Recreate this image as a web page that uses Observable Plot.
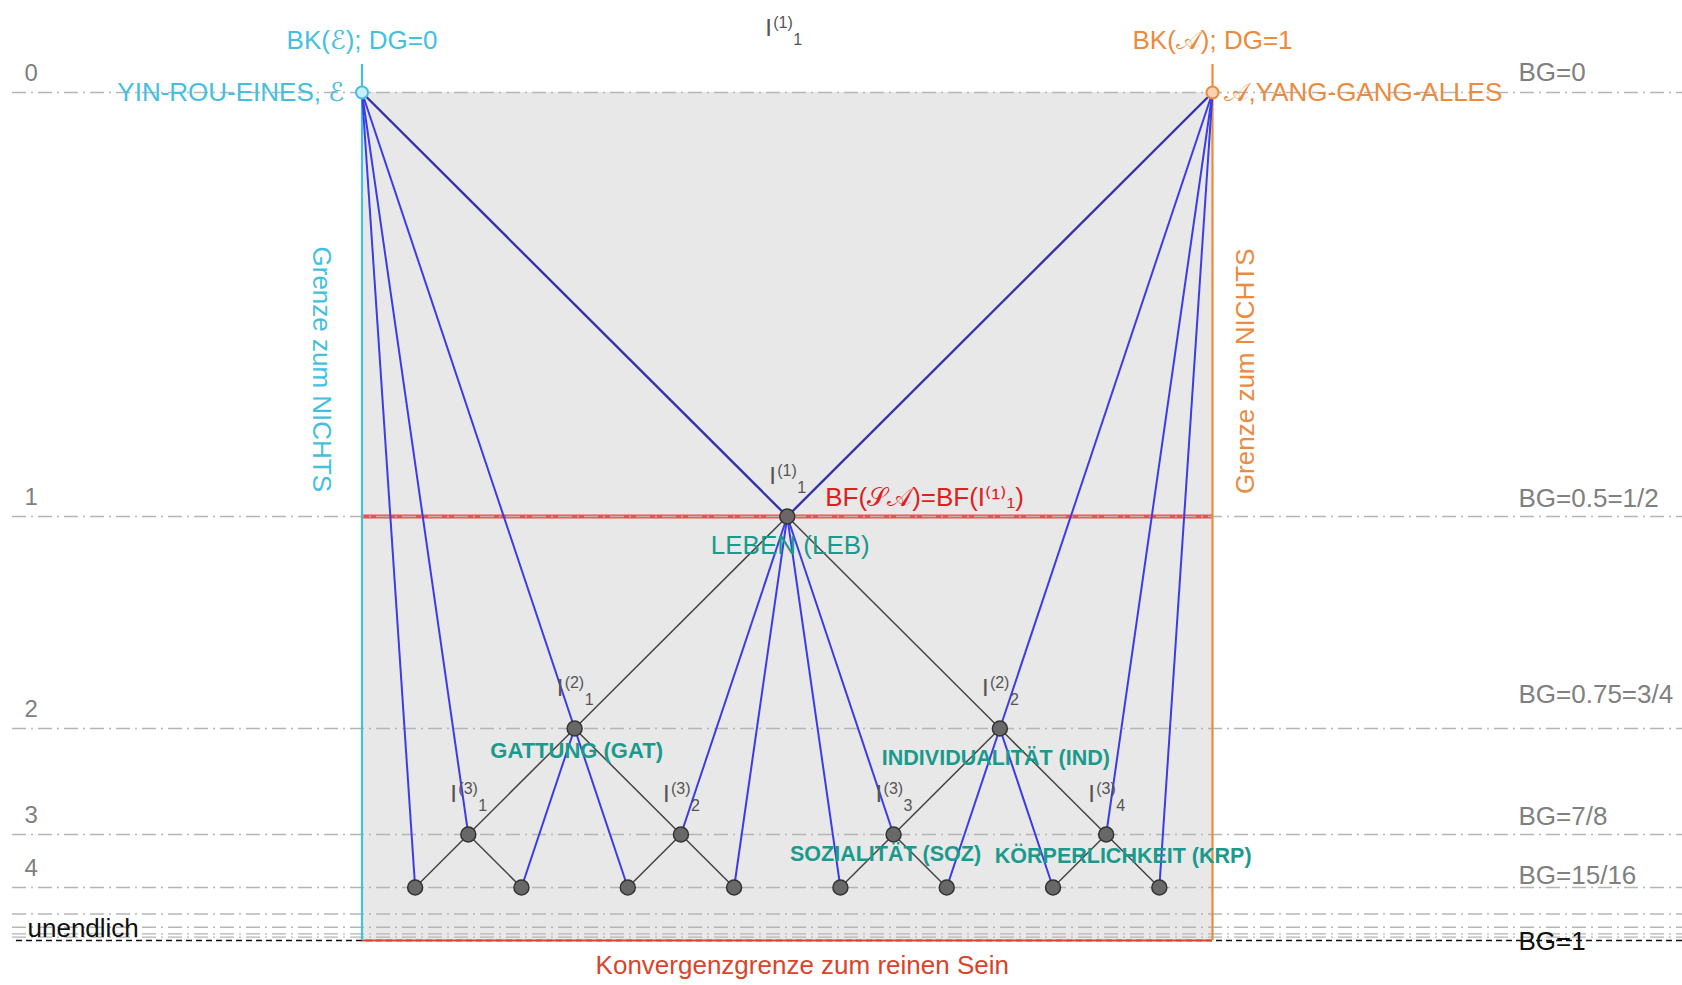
<!DOCTYPE html>
<html><head><meta charset="utf-8">
<script src="https://cdn.jsdelivr.net/npm/d3@7"></script>
<script src="https://cdn.jsdelivr.net/npm/@observablehq/plot@0.6"></script>
<style>
html,body{margin:0;padding:0;background:#fff;overflow:hidden;}
#chart svg{display:block;}
</style></head><body><div id="chart"></div>
<script>
// ---------- data ----------
const levelNumbers = ["0", "1", "2", "3", "4"];
const levelBG = [0, 0.5, 0.75, 0.875, 0.9375];
const levelBGText = ["BG=0", "BG=0.5=1/2", "BG=0.75=3/4", "BG=7/8", "BG=15/16"];
const deeperBG = [0.96875, 0.984375, 0.9921875, 0.99609375];
const limitBG = [1];
const limitLeftText = ["unendlich"];
const limitRightText = ["BG=1"];
const limitCaption = ["Konvergenzgrenze zum reinen Sein"];
const poleDG = [0, 1];
const poleBG = [0, 0];
const poleNames = ["YIN-ROU-EINES, ℰ", "𝒜,YANG-GANG-ALLES"];
const poleBK = ["BK(ℰ); DG=0", "BK(𝒜); DG=1"];
const poleBorder = ["Grenze zum NICHTS", "Grenze zum NICHTS"];
// nodes: 0 = ℰ (YIN), 1 = 𝒜 (YANG), 2.. tree nodes I(level)index
const nodeDG = [0, 1,
  0.5,
  0.25, 0.75,
  0.125, 0.375, 0.625, 0.875,
  0.0625, 0.1875, 0.3125, 0.4375, 0.5625, 0.6875, 0.8125, 0.9375];
const nodeBG = [0, 0,
  0.5,
  0.75, 0.75,
  0.875, 0.875, 0.875, 0.875,
  0.9375, 0.9375, 0.9375, 0.9375, 0.9375, 0.9375, 0.9375, 0.9375];
const nodeLevel = [null, null, 1, 2, 2, 3, 3, 3, 3, 4, 4, 4, 4, 4, 4, 4, 4];
const nodeIndex = [null, null, 1, 1, 2, 1, 2, 3, 4, 1, 2, 3, 4, 5, 6, 7, 8];
const labeledNodes = [2, 3, 4, 5, 6, 7, 8];
const treeNodes = [2, 3, 4, 5, 6, 7, 8, 9, 10, 11, 12, 13, 14, 15, 16];
const treeEdges = [[2,3],[2,4],[3,5],[3,6],[4,7],[4,8],
  [5,9],[5,10],[6,11],[6,12],[7,13],[7,14],[8,15],[8,16]];
const mainEdges = [[0,2],[1,2]];
const blueEdges = [[0,3],[1,4],[0,5],[2,6],[2,7],[1,8],
  [0,9],[3,10],[3,11],[2,12],[2,13],[4,14],[4,15],[1,16]];
const conceptNames = ["LEBEN (LEB)", "GATTUNG (GAT)", "INDIVIDUALITÄT (IND)", "SOZIALITÄT (SOZ)", "KÖRPERLICHKEIT (KRP)"];
const conceptNodes = [2, 3, 4, 7, 8];
const middleLabel = ["BF(𝒮𝒜)=BF(I⁽¹⁾₁)"];

// ---------- style / layout ----------
const CYAN = "#45bfe0", ORANGE = "#ec8a3e", TEAL = "#1a9a8c", RED = "#ee3333";
const GRID = "#b5b5b5", LABEL = "#808080", NODE_TXT = "#555";
const FONT = "Liberation Sans, DejaVu Sans, sans-serif";
const FS = 26;

const ex = d => nodeDG[d[0]], ey = d => nodeBG[d[0]], fx = d => nodeDG[d[1]], fy = d => nodeBG[d[1]];

function iLabel(data, xf, yf, dx, dy) {
  return [
    Plot.text(data, {x: xf, y: yf, text: () => "I", fontSize: 24, dx, dy, textAnchor: "start", fill: NODE_TXT}),
    Plot.text(data, {x: xf, y: yf, text: i => `(${nodeLevel[i]})`, fontSize: 16, dx: dx + 8, dy: dy - 6, textAnchor: "start", fill: NODE_TXT}),
    Plot.text(data, {x: xf, y: yf, text: i => String(nodeIndex[i]), fontSize: 16, dx: dx + 28, dy: dy + 11, textAnchor: "start", fill: NODE_TXT})
  ];
}

const conceptLayout = [[3, 29, "normal", FS], [2, 22, "bold", 22], [-4, 30, "bold", 21.5], [-8, 20, "bold", 21.5], [17, 22, "bold", 21.5]];
const rightLabelDy = [-20, -18, -34, -18, -12];

const chart = Plot.plot({
  width: 1682, height: 985, margin: 0,
  x: {domain: [0, 1], range: [361.5, 1212], axis: null},
  y: {domain: [0, 1], range: [92, 940], axis: null},
  style: {fontFamily: FONT, background: "#fff"},
  marks: [
    // shaded field
    Plot.rect([0], {x1: () => poleDG[0], x2: () => poleDG[1], y1: () => levelBG[0], y2: () => limitBG[0], fill: "#e8e8e8"}),
    // red BF line at level 1
    Plot.ruleY([levelBG[1]], {x1: poleDG[0], x2: poleDG[1], stroke: RED, strokeWidth: 4, strokeOpacity: 0.85}),
    // level lines
    Plot.ruleY(levelBG.concat(deeperBG), {stroke: GRID, strokeWidth: 1.3, strokeDasharray: "14,5,2,5", insetLeft: 12}),
    // limit line
    Plot.ruleY(limitBG, {stroke: "#111", strokeWidth: 1.4, strokeDasharray: "6,4", insetLeft: 16}),
    Plot.ruleY(limitBG, {x1: poleDG[0], x2: poleDG[1], stroke: "#dd4433", strokeWidth: 2}),
    // pole verticals
    Plot.ruleX([poleDG[0]], {y1: levelBG[0], y2: limitBG[0], stroke: CYAN, strokeWidth: 2.2, insetTop: -28}),
    Plot.ruleX([poleDG[1]], {y1: levelBG[0], y2: limitBG[0], stroke: ORANGE, strokeWidth: 2.2, insetTop: -28}),
    // edges
    Plot.link(treeEdges, {x1: ex, y1: ey, x2: fx, y2: fy, stroke: "#444", strokeWidth: 1.5}),
    Plot.link(blueEdges, {x1: ex, y1: ey, x2: fx, y2: fy, stroke: "#3c3ce6", strokeWidth: 2}),
    Plot.link(mainEdges, {x1: ex, y1: ey, x2: fx, y2: fy, stroke: "#3434a8", strokeWidth: 2.4}),
    // pole dots
    Plot.dot([0], {x: i => poleDG[i], y: i => poleBG[i], r: 6, fill: "#c8f0fa", stroke: CYAN, strokeWidth: 2}),
    Plot.dot([1], {x: i => poleDG[i], y: i => poleBG[i], r: 6, fill: "#fbd2b0", stroke: ORANGE, strokeWidth: 2}),
    // tree nodes
    Plot.dot(treeNodes, {x: i => nodeDG[i], y: i => nodeBG[i], r: 7.5, fill: "#686868", stroke: "#333", strokeWidth: 1.5}),
    // node labels I(k)i
    ...iLabel(labeledNodes, i => nodeDG[i], i => nodeBG[i], -18, -40),
    ...iLabel([2], i => nodeDG[i], () => levelBG[0], -22, -64),
    // concept labels
    ...conceptNames.map((name, k) => Plot.text([conceptNodes[k]], {
      x: i => nodeDG[i], y: i => nodeBG[i], text: () => name,
      dx: conceptLayout[k][0], dy: conceptLayout[k][1], fontWeight: conceptLayout[k][2], fontSize: conceptLayout[k][3], fill: TEAL
    })),
    // BF label
    Plot.text(middleLabel, {x: nodeDG[2], y: nodeBG[2], text: d => d, dx: 38, dy: -19, textAnchor: "start", fontSize: FS, fill: "#e02020"}),
    // pole names
    Plot.text([0], {x: i => poleDG[i], y: i => poleBG[i], text: i => poleNames[i], textAnchor: "end", dx: -18, fontSize: FS, fill: CYAN}),
    Plot.text([1], {x: i => poleDG[i], y: i => poleBG[i], text: i => poleNames[i], textAnchor: "start", dx: 11, fontSize: FS, fill: ORANGE}),
    Plot.text([0], {x: i => poleDG[i], y: i => poleBG[i], text: i => poleBK[i], dy: -52, fontSize: FS, fill: CYAN}),
    Plot.text([1], {x: i => poleDG[i], y: i => poleBG[i], text: i => poleBK[i], dy: -52, fontSize: FS, fill: ORANGE}),
    // border texts
    Plot.text([0], {x: i => poleDG[i], y: i => poleBG[i], text: i => poleBorder[i], rotate: 90, textAnchor: "start", dx: -41, dy: 154, fontSize: FS, fill: CYAN}),
    Plot.text([1], {x: i => poleDG[i], y: i => poleBG[i], text: i => poleBorder[i], rotate: -90, textAnchor: "end", dx: 33, dy: 156, fontSize: FS, fill: ORANGE}),
    // left level numbers
    Plot.text(levelNumbers, {y: (d, i) => levelBG[i], text: d => d, frameAnchor: "left", textAnchor: "start", dx: 24, dy: -19, fontSize: 24, fill: LABEL}),
    Plot.text(limitLeftText, {y: (d, i) => limitBG[i], text: d => d, frameAnchor: "left", textAnchor: "start", dx: 27, dy: -12, fontSize: FS, fill: "#111"}),
    // right BG labels
    ...levelBGText.map((t, k) => Plot.text([k], {y: i => levelBG[i], text: i => levelBGText[i], frameAnchor: "left", textAnchor: "start", dx: 1518, dy: rightLabelDy[k], fontSize: FS, fill: LABEL})),
    Plot.text(limitRightText, {y: (d, i) => limitBG[i], text: d => d, frameAnchor: "left", textAnchor: "start", dx: 1518, dy: 1, fontSize: FS, fill: "#111"}),
    // caption
    Plot.text(limitCaption, {x: nodeDG[2], y: limitBG[0], text: d => d, dx: 15, dy: 25, fontSize: FS, fill: "#d9442b"})
  ]
});
document.getElementById("chart").appendChild(chart);
</script>
</body></html>
